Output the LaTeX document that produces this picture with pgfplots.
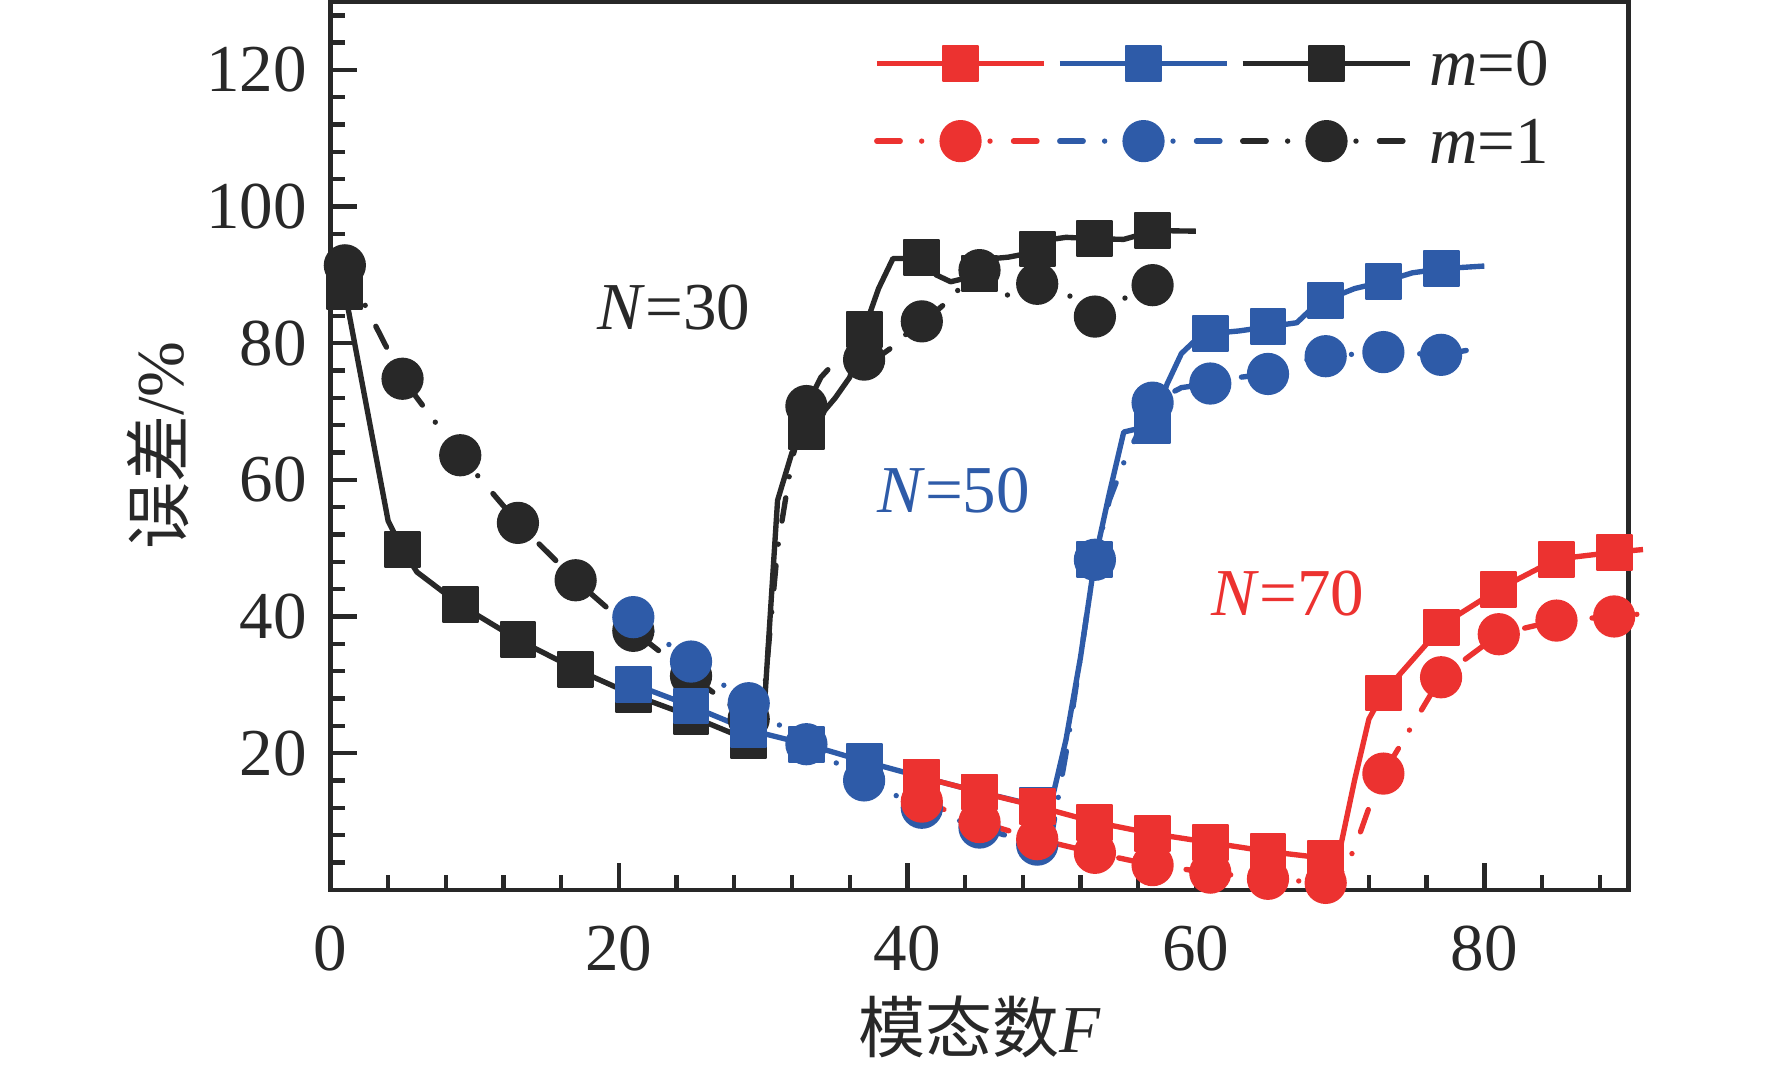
\documentclass[border=0pt]{standalone}
\usepackage{fontspec}
\setmainfont{Liberation Serif}
\newfontfamily\cjk{Noto Sans CJK SC}
\usepackage{pgfplots}
\pgfplotsset{compat=1.18}
\usetikzlibrary{calc}
\definecolor{cred}{RGB}{236,50,48}
\definecolor{cblue}{RGB}{46,91,168}
\definecolor{cblack}{RGB}{40,40,40}
\pgfplotsset{
  m0/.style={solid, line width=0.8pt, line join=round, mark=square*, mark size=2.6pt,
     mark options={solid, line width=0.3pt, line join=round}},
  m1/.style={line width=0.8pt, line cap=round, dash pattern=on 3.5pt off 3.2pt on 0pt off 3.5pt,
     mark=*, mark size=3pt, mark options={solid, line width=0.3pt}},
}
\begin{document}
\begin{tikzpicture}
\begin{axis}[
  scale only axis, width=193.7pt, height=132.5pt,
  xmin=0, xmax=90, ymin=0, ymax=130,
  clip=false,
  axis line style={line width=0.65pt, cblack},
  xtick={0,20,40,60,80},
  ytick={0,20,40,60,80,100,120},
  yticklabels={,20,40,60,80,100,120},
  minor xtick={4,8,12,16,24,28,32,36,44,48,52,56,64,68,72,76,84,88},
  minor ytick={4,8,12,16,24,28,32,36,44,48,52,56,64,68,72,76,84,88,92,96,104,108,112,116,124,128},
  tick align=inside, xtick pos=bottom, ytick pos=left,
  major tick length=4pt, minor tick length=2.2pt,
  every tick/.style={line width=0.65pt, cblack},
  /pgf/number format/assume math mode=true,
  tick label style={font=\fontsize{10}{12}\selectfont, text=cblack},
  xticklabel style={yshift=-1.8pt},
  xlabel={{\cjk 模态数}\textit{F}},
  ylabel={{\cjk 误差}/\%},
  label style={font=\fontsize{10}{12}\selectfont, text=cblack},
  x label style={at={(axis description cs:0.5,-0.155)}, anchor=center},
  y label style={at={(axis description cs:-0.133,0.5)}, anchor=center},
  legend columns=3,
  legend image code/.code={\draw[mark repeat=2,mark phase=2,#1] plot coordinates {(0pt,0pt)(12.5pt,0pt)(25pt,0pt)};},
  legend style={at={(axis cs:37.6,115.3)}, anchor=west, draw=none, fill=none,
     inner sep=0pt, row sep=5pt, cells={anchor=west},
     nodes={inner sep=0pt, text depth=0pt, font=\fontsize{10}{12}\selectfont, text=cblack},
     /tikz/every odd column/.append style={column sep=2.4pt},
     /tikz/every even column/.append style={column sep=-1.9pt}},
]
\addlegendimage{cred, m0}\addlegendentry{}
\addlegendimage{cblue, m0}\addlegendentry{}
\addlegendimage{cblack, m0}\addlegendentry{\textit{m}=0}
\addlegendimage{cred, m1}\addlegendentry{}
\addlegendimage{cblue, m1}\addlegendentry{}
\addlegendimage{cblack, m1}\addlegendentry{\textit{m}=1}

% ---------- N=30, m=0 ----------
\addplot[cblack, m0, no markers, forget plot] coordinates {
(1,87.6)(4,54)(5,49.8)(6,46.5)(9,41.7)(13,36.6)(17,32.3)(21,28.5)(25,25.4)(29,21.9)
(30,24)(31,57)(32,64)(33,67)(34,69.5)(35,72)(36,75)(37,82)(38,88)(39,92.4)(40,92.4)
(41,92.6)(42,90)(43,89)(44,89.5)(45,90.2)(46,92.4)(47,92.6)(48,93)(49,93.8)(50,95.2)
(51,95.5)(53,95.3)(55,95.2)(56,95.8)(57,96.5)(60,96.4)};
\addplot[cblack, m0, only marks, forget plot] coordinates {
(1,87.6)(5,49.8)(9,41.7)(13,36.6)(17,32.3)(21,28.5)(25,25.4)(29,21.9)
(33,67)(37,82)(41,92.6)(45,90.2)(49,93.8)(53,95.3)(57,96.5)};
% ---------- N=30, m=1 ----------
\addplot[cblack, m1, no markers, forget plot] coordinates {
(1,91.4)(5,74.8)(9,63.6)(13,53.7)(17,45.3)(21,37.9)(25,31.3)(29,25.0)
(30,27)(31,50)(32,63)(33,70.8)(34,75)(35,77.3)(37,77.6)(38,78)(39,79.5)(40,81.5)
(41,83.2)(42,84.7)(43,86.5)(44,89)(45,90.7)(46,88)(47,87)(48,87.5)(49,88.7)(51,87.6)
(52,85)(53,83.9)(54,85)(55,86.5)(56,87.8)(57,88.5)(59,89.7)};
\addplot[cblack, m1, only marks, forget plot] coordinates {
(1,91.4)(5,74.8)(9,63.6)(13,53.7)(17,45.3)(21,37.9)(25,31.3)(29,25.0)
(33,70.8)(37,77.6)(41,83.2)(45,90.7)(49,88.7)(53,83.9)(57,88.5)};
% ---------- N=50, m=0 ----------
\addplot[cblue, m0, no markers, forget plot] coordinates {
(21,30.1)(25,26.9)(29,23.4)(33,21.3)(37,18.8)(41,16.5)(45,14.3)(49,12.3)
(50,13)(51,22)(52,34)(53,48.3)(54,58)(55,67)(57,68)(58,74)(59,78.5)(60,80.5)
(61,81.4)(63,81.8)(65,82.4)(67,83)(68,85)(69,86.3)(71,88)(73,89)(75,90.3)(77,90.9)(80,91.3)};
\addplot[cblue, m0, only marks, forget plot] coordinates {
(21,30.1)(25,26.9)(29,23.4)(33,21.3)(37,18.8)(41,16.5)(45,14.3)(49,12.3)
(53,48.3)(57,68)(61,81.4)(65,82.4)(69,86.3)(73,89)(77,90.9)};
% ---------- N=50, m=1 ----------
\addplot[cblue, m1, no markers, forget plot] coordinates {
(21,39.9)(25,33.4)(29,27.3)(33,21.3)(37,16.0)(41,12.0)(45,9.1)(49,6.6)
(50,8)(51,20)(52,34)(53,48.3)(54,57)(55,62.5)(57,71.3)(59,73.5)(61,74.1)(63,75)
(65,75.5)(67,77.3)(69,78.1)(73,78.7)(77,78.3)(80,79.4)};
\addplot[cblue, m1, only marks, forget plot] coordinates {
(21,39.9)(25,33.4)(29,27.3)(33,21.3)(37,16.0)(41,12.0)(45,9.1)(49,6.6)
(53,48.3)(57,71.3)(61,74.1)(65,75.5)(69,78.1)(73,78.7)(77,78.3)};
% ---------- N=70, m=0 ----------
\addplot[cred, m0, no markers, forget plot] coordinates {
(41,16.5)(45,14.3)(49,12.2)(53,9.9)(57,8.2)(61,6.9)(65,5.6)(69,4.6)
(70,6)(71,16)(72,25)(73,28.8)(77,38.4)(78,40)(81,44)(85,48.4)(89,49.4)(91,49.8)};
\addplot[cred, m0, only marks, forget plot] coordinates {
(41,16.5)(45,14.3)(49,12.2)(53,9.9)(57,8.2)(61,6.9)(65,5.6)(69,4.6)
(73,28.8)(77,38.4)(81,44)(85,48.4)(89,49.4)};
% ---------- N=70, m=1 ----------
\addplot[cred, m1, no markers, forget plot] coordinates {
(41,12.9)(45,9.9)(49,7.4)(53,5.4)(57,3.6)(61,2.5)(65,1.6)(69,1.0)
(70,2)(71,6)(72,12)(73,17)(77,31.1)(81,37.4)(85,39.4)(89,40.0)(91,40.4)};
\addplot[cred, m1, only marks, forget plot] coordinates {
(41,12.9)(45,9.9)(49,7.4)(53,5.4)(57,3.6)(61,2.5)(65,1.6)(69,1.0)
(73,17)(77,31.1)(81,37.4)(85,39.4)(89,40.0)};

\node[text=cblack, font=\fontsize{10}{12}\selectfont] at (axis cs:23.8,85.2) {\textit{N}=30};
\node[text=cblue, font=\fontsize{10}{12}\selectfont] at (axis cs:43.2,58.5) {\textit{N}=50};
\node[text=cred, font=\fontsize{10}{12}\selectfont] at (axis cs:66.4,43.3) {\textit{N}=70};
\end{axis}
\pgfresetboundingbox
\path ($(current axis.south west)+(-49.3pt,-27.3pt)$) rectangle ($(current axis.north east)+(21.4pt,0.25pt)$);
\end{tikzpicture}
\end{document}
